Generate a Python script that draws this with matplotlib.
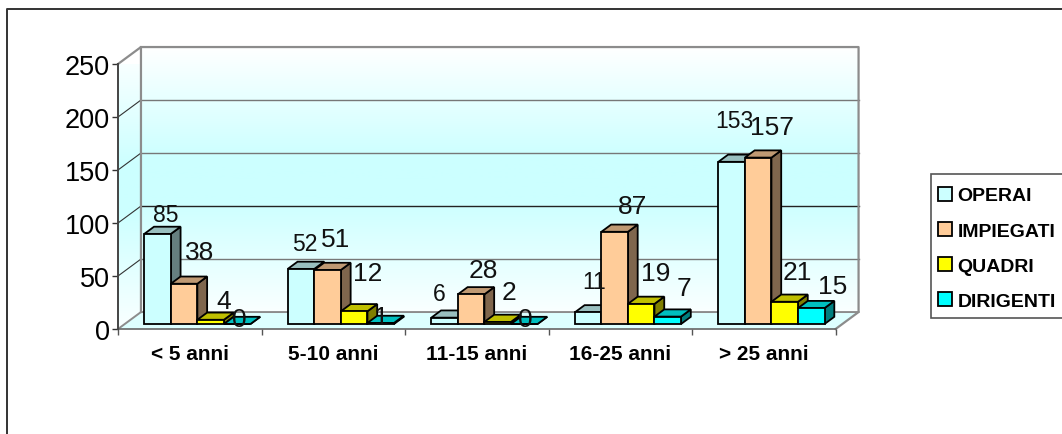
import numpy as np
import matplotlib
matplotlib.use("Agg")
import matplotlib.pyplot as plt
from matplotlib.lines import Line2D
from matplotlib.patches import Patch, Polygon, Rectangle

categories = ["< 5 anni", "5-10 anni", "11-15 anni", "16-25 anni", "> 25 anni"]
operai = [85, 52, 6, 11, 153]
impiegati = [38, 51, 28, 87, 157]
quadri = [4, 12, 2, 19, 21]
dirigenti = [0, 1, 0, 7, 15]
series_names = ["OPERAI", "IMPIEGATI", "QUADRI", "DIRIGENTI"]
yticks = [0, 50, 100, 150, 200, 250]

# front, top and side colour of each series
front = ["#CCFFFF", "#FFCC99", "#FFFF00", "#00FFFF"]
top = ["#99BFBF", "#BF9973", "#BFBF00", "#00BFBF"]
side = ["#667F7F", "#7F664D", "#7F7F00", "#007F7F"]

# hand placed data labels, pixels from top centre of the bar (one row per series)
label_dx = [[8, 4, -5, 6, 3], [16, 8, 12, 18, 14], [13, 14, 11, 14, 13], [2, 1, 1, 16, 21]]
label_dy = [[19, 25, 24, 31, 41], [32, 31, 24, 26, 31], [19, 38, 30, 31, 30], [5, 6, 5, 29, 22]]

plt.rcParams["font.family"] = ["Liberation Sans", "DejaVu Sans"]

W, H = 1062, 435
fig = plt.figure(figsize=(W / 100, H / 100), dpi=100)
ax = fig.add_axes([118 / W, (H - 330) / H, 717.6 / W, 265 / H])

# 3d look: offset of the back wall and of the bar depth
wall_dx, wall_dy = 0.16, 16
bar_w = 0.185
bar_start = 0.183
bar_base = 4.7
depth_x, depth_y = 0.068, 6.8
ymax = yticks[-1]

# white - cyan - white gradient for the walls
n = 256
t = np.linspace(0, 1, n)
red = np.interp(t, [0, 0.42, 0.58, 1], [1, 0.8, 0.8, 0.98])
grad = np.dstack([red, np.ones(n), np.ones(n)]).reshape(n, 1, 3)

ax.imshow(grad, extent=(wall_dx, 5 + wall_dx, wall_dy, ymax + wall_dy), aspect="auto",
          zorder=0, clip_on=False)
left_wall = ax.imshow(grad, extent=(0, wall_dx, 0, ymax + wall_dy), aspect="auto",
                      zorder=0, clip_on=True)
left_poly = Polygon([(0, 0), (wall_dx, wall_dy), (wall_dx, ymax + wall_dy), (0, ymax)],
                    transform=ax.transData)
left_wall.set_clip_path(left_poly)
ax.add_patch(Polygon([(0, 0), (5, 0), (5 + wall_dx, wall_dy), (wall_dx, wall_dy)],
                     fc="#DDFFFF", ec="none", zorder=1, clip_on=False))

# grid on back and left wall
for v in yticks[1:-1]:
    c = "#222222" if v == 100 else "#777777"
    ax.plot([wall_dx, 5 + wall_dx], [v + wall_dy] * 2, color=c, lw=1, zorder=1.5, clip_on=False)
    ax.plot([0, wall_dx], [v, v + wall_dy], color="#333333", lw=0.8, zorder=1.5, clip_on=False)

edge = "#8C8C8C"
ax.plot([0, wall_dx, wall_dx], [ymax, ymax + wall_dy, wall_dy], color=edge, lw=1.6, zorder=1.6, clip_on=False)
ax.plot([wall_dx, 5 + wall_dx, 5 + wall_dx, 5], [ymax + wall_dy, ymax + wall_dy, wall_dy, 0],
        color=edge, lw=1.6, zorder=1.6, clip_on=False)
ax.plot([0, wall_dx, 5 + wall_dx], [0, wall_dy, wall_dy], color=edge, lw=1.4, zorder=1.6, clip_on=False)

# bars, left to right so the next bar hides the side of the previous one
all_series = [operai, impiegati, quadri, dirigenti]
zo = 2
for i in range(len(categories)):
    for j, values in enumerate(all_series):
        v = values[i]
        x0 = i + bar_start + j * bar_w
        x1 = x0 + bar_w
        y0 = bar_base
        y1 = bar_base + v
        ax.add_patch(Polygon([(x1, y0), (x1 + depth_x, y0 + depth_y), (x1 + depth_x, y1 + depth_y), (x1, y1)],
                             fc=side[j], ec="black", lw=1.3, zorder=zo, clip_on=False))
        ax.add_patch(Polygon([(x0, y1), (x1, y1), (x1 + depth_x, y1 + depth_y), (x0 + depth_x, y1 + depth_y)],
                             fc=top[j], ec="black", lw=1.3, zorder=zo, clip_on=False))
        ax.bar(x0, v, bar_w, bottom=y0, align="edge", color=front[j], edgecolor="black",
               linewidth=1.3, zorder=zo, clip_on=False)
        zo += 0.01

for j, values in enumerate(all_series):
    size = 16.5 if j == 0 else 19
    for i, v in enumerate(values):
        xc = i + bar_start + (j + 0.5) * bar_w
        ax.annotate(str(v), (xc, bar_base + v),
                    xytext=(label_dx[j][i] * 0.72, label_dy[j][i] * 0.72), textcoords="offset points",
                    ha="center", va="center", fontsize=size, color="#111111", zorder=5,
                    annotation_clip=False)

ax.set_xlim(0, 5)
ax.set_ylim(0, ymax)
for s in ["top", "right"]:
    ax.spines[s].set_visible(False)
ax.spines["left"].set_color("#444444")
ax.spines["left"].set_linewidth(1.4)
ax.spines["bottom"].set_color("#666666")
ax.spines["bottom"].set_linewidth(1.2)
ax.spines["left"].set_zorder(6)
ax.spines["bottom"].set_zorder(1.7)

ax.set_yticks(yticks)
ax.set_yticklabels([str(v) for v in yticks], fontsize=19.5)
ax.tick_params(axis="y", length=4, width=1, color="#333333", pad=2)
ax.set_xticks(range(len(categories) + 1))
ax.set_xticklabels([])
ax.set_xticks([i + 0.5 for i in range(len(categories))], minor=True)
ax.set_xticklabels(categories, minor=True, fontsize=15, fontweight="bold")
ax.tick_params(axis="x", which="major", length=4.5, width=1, color="#555555")
ax.tick_params(axis="x", which="minor", length=0, pad=11)

# legend frame runs off the right edge like the original, so it is drawn apart
fig.add_artist(Rectangle((931 / W, 1 - 319 / H), 160 / W, 144 / H, transform=fig.transFigure,
                         fc="white", ec="#555555", lw=1.2))
handles = [Patch(fc=c, ec="black", lw=1.3) for c in front]
leg = fig.legend(handles, series_names, loc="upper left", bbox_to_anchor=(925 / W, 1 - 175 / H),
                 bbox_transform=fig.transFigure, borderaxespad=0,
                 prop={"weight": "bold", "size": 14}, frameon=False,
                 handlelength=0.72, handleheight=0.72, handletextpad=0.3,
                 labelspacing=0.9, borderpad=0.65)

# chart area border: only the left and top edges fall inside the picture
fig.add_artist(Line2D([7 / W, 7 / W, 1], [0, 1 - 10 / H, 1 - 10 / H], color="#333333", lw=1.4))

fig.savefig("out.png", dpi=100)
